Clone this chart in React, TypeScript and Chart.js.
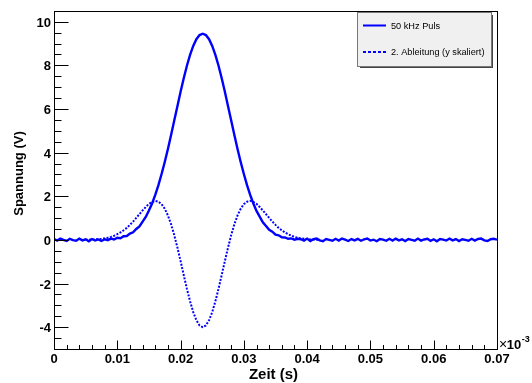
import React, { useEffect, useRef } from "react";
import { Chart, registerables } from "chart.js";

Chart.register(...registerables);

// ---- data (time in milliseconds, voltage in volts) ----
const TIME_MS = [
  0, 0.5, 1, 1.5, 2, 2.5, 3, 3.5, 4, 4.5, 5, 5.5, 6, 6.5, 7, 7.5, 8, 8.5, 9, 9.5,
  10, 10.5, 11, 11.5, 12, 12.5, 13, 13.5, 14, 14.5, 15, 15.5, 16, 16.5, 17, 17.5, 18, 18.5, 19, 19.5,
  20, 20.5, 21, 21.5, 22, 22.5, 23, 23.5, 24, 24.5, 25, 25.5, 26, 26.5, 27, 27.5, 28, 28.5, 29, 29.5,
  30, 30.5, 31, 31.5, 32, 32.5, 33, 33.5, 34, 34.5, 35, 35.5, 36, 36.5, 37, 37.5, 38, 38.5, 39, 39.5,
  40, 40.5, 41, 41.5, 42, 42.5, 43, 43.5, 44, 44.5, 45, 45.5, 46, 46.5, 47, 47.5, 48, 48.5, 49, 49.5,
  50, 50.5, 51, 51.5, 52, 52.5, 53, 53.5, 54, 54.5, 55, 55.5, 56, 56.5, 57, 57.5, 58, 58.5, 59, 59.5,
  60, 60.5, 61, 61.5, 62, 62.5, 63, 63.5, 64, 64.5, 65, 65.5, 66, 66.5, 67, 67.5, 68, 68.5, 69, 69.5,
  70,
];

const PULSE_V = [
  0.04, -0.03, 0.06, 0.0, -0.05, 0.05, -0.01, -0.04, 0.06, -0.02, 0.03, -0.06, 0.04, -0.03, 0.02, -0.05, 0.03, -0.01, 0.06, 0.02,
  0.1, 0.08, 0.17, 0.18, 0.29, 0.35, 0.5, 0.62, 0.84, 1.05, 1.35, 1.67, 2.06, 2.51, 3.02, 3.57, 4.17, 4.81, 5.47, 6.13,
  6.79, 7.41, 7.98, 8.48, 8.89, 9.2, 9.39, 9.45, 9.39, 9.2, 8.89, 8.48, 7.98, 7.41, 6.79, 6.13, 5.47, 4.81, 4.17, 3.57,
  3.02, 2.51, 2.06, 1.67, 1.33, 1.07, 0.81, 0.64, 0.46, 0.38, 0.24, 0.21, 0.12, 0.11, 0.05, 0.07, 0.01, 0.05, 0.03, -0.03,
  0.06, -0.05, 0.03, 0.06, -0.02, -0.06, 0.04, 0.0, -0.04, 0.05, -0.03, 0.06, 0.01, -0.05, 0.04, -0.02, 0.05, -0.04, 0.02, 0.06,
  -0.03, 0.01, -0.06, 0.04, 0.01, -0.04, 0.05, -0.03, 0.06, -0.02, 0.03, -0.05, 0.04, 0.0, -0.04, 0.06, -0.03, 0.02, 0.05, -0.04,
  0.03, -0.06, 0.04, 0.01, -0.03, 0.06, -0.02, 0.04, -0.05, 0.03, 0.0, -0.04, 0.05, -0.03, 0.04, 0.06, -0.02, -0.05, 0.03, 0.05,
  0.01,
];

const DERIV_V = [
  null, null, null, null, null, null, null, null, null, null, 0.01, 0.01, 0.02, 0.02, 0.04, 0.05, 0.07, 0.1, 0.14, 0.19,
  0.26, 0.34, 0.44, 0.55, 0.69, 0.84, 1.01, 1.18, 1.35, 1.51, 1.65, 1.74, 1.79, 1.75, 1.64, 1.43, 1.12, 0.72, 0.22, -0.35,
  -0.97, -1.61, -2.24, -2.81, -3.31, -3.68, -3.92, -4.0, -3.92, -3.68, -3.31, -2.81, -2.24, -1.61, -0.97, -0.35, 0.22, 0.72, 1.12, 1.43,
  1.64, 1.75, 1.79, 1.74, 1.65, 1.51, 1.35, 1.18, 1.01, 0.84, 0.69, 0.55, 0.44, 0.34, 0.26, 0.19, 0.14, 0.1, 0.07, 0.05,
  0.04, 0.02, 0.02, 0.01, 0.01, null, null, null, null, null, null, null, null, null, null, null, null, null, null, null,
  null, null, null, null, null, null, null, null, null, null, null, null, null, null, null, null, null, null, null, null,
  null, null, null, null, null, null, null, null, null, null, null, null, null, null, null, null, null, null, null, null,
  null,
];

const SERIES_LABELS = ["50 kHz Puls", "2. Ableitung (y skaliert)"];
const X_TICKS_MS = [0, 10, 20, 30, 40, 50, 60, 70];
const X_TICK_LABELS = ["0", "0.01", "0.02", "0.03", "0.04", "0.05", "0.06", "0.07"];
const Y_TICKS = [-4, -2, 0, 2, 4, 6, 8, 10];
const Y_TICK_LABELS = ["-4", "-2", "0", "2", "4", "6", "8", "10"];
const X_TITLE = "Zeit (s)";
const Y_TITLE = "Spannung (V)";
const X_EXP_BASE = "10";
const X_EXP_POWER = "-3";

const X_MIN = 0;
const X_MAX = 70;
const Y_MIN = -5;
const Y_MAX = 10.5;
const X_MINOR_STEP = 2;
const Y_MINOR_STEP = 0.5;

const FONT = "'Liberation Sans', Arial, Helvetica, sans-serif";
const BLUE = "#0000ff";

const rootStyle = {
  id: "rootStyle",
  afterDraw(chart: any) {
    const { ctx, chartArea: a, scales } = chart;
    const xs = scales.x;
    const ys = scales.y;
    ctx.save();
    ctx.strokeStyle = "#000";
    ctx.lineWidth = 1;
    // frame
    ctx.strokeRect(Math.round(a.left) + 0.5, Math.round(a.top) + 0.5, Math.round(a.right - a.left), Math.round(a.bottom - a.top));
    const L = Math.round(a.left) + 0.5;
    const B = Math.round(a.bottom) + 0.5;
    ctx.beginPath();
    // y ticks
    for (let v = Y_MIN; v <= Y_MAX + 1e-9; v += Y_MINOR_STEP) {
      const y = Math.round(ys.getPixelForValue(v)) + 0.5;
      const major = Y_TICKS.indexOf(v) >= 0;
      ctx.moveTo(L, y);
      ctx.lineTo(L + (major ? 14 : 7), y);
    }
    // x ticks
    for (let v = X_MIN; v <= X_MAX + 1e-9; v += X_MINOR_STEP) {
      const x = Math.round(xs.getPixelForValue(v)) + 0.5;
      const major = X_TICKS_MS.indexOf(v) >= 0;
      ctx.moveTo(x, B);
      ctx.lineTo(x, B - (major ? 9 : 4.5));
    }
    ctx.stroke();

    ctx.fillStyle = "#000";
    // exponent label ×10^-3
    let ex = a.right + 2;
    ctx.textBaseline = "alphabetic";
    ctx.textAlign = "left";
    ctx.font = `14px ${FONT}`;
    ctx.fillText("\u00d7", ex, 348.5);
    ex += ctx.measureText("\u00d7").width - 0.5;
    ctx.font = `bold 13px ${FONT}`;
    ctx.fillText(X_EXP_BASE, ex, 348.5);
    ex += ctx.measureText(X_EXP_BASE).width + 0.5;
    ctx.font = `bold 9px ${FONT}`;
    ctx.fillText(X_EXP_POWER, ex, 342);

    // axis titles
    ctx.font = `bold 15px ${FONT}`;
    ctx.textAlign = "center";
    ctx.fillText(X_TITLE, 273.5, 378.5);
    ctx.save();
    ctx.translate(22.5, 173.5);
    ctx.rotate(-Math.PI / 2);
    ctx.font = `bold 13px ${FONT}`;
    ctx.fillText(Y_TITLE, 0, 0);
    ctx.restore();

    // legend box
    const lx = 358, ly = 13, lw = 133, lh = 53;
    ctx.fillStyle = "#444";
    ctx.fillRect(lx + 2, ly + 2, lw, lh);
    ctx.fillStyle = "#f0f0f0";
    ctx.fillRect(lx, ly, lw, lh);
    ctx.strokeStyle = "#777";
    ctx.lineWidth = 1;
    ctx.strokeRect(lx - 0.5, ly - 0.5, lw + 1, lh + 1);

    const rows = [25.5, 52];
    chart.data.datasets.forEach((ds: any, i: number) => {
      const y = rows[i];
      ctx.save();
      ctx.strokeStyle = ds.borderColor;
      ctx.lineWidth = 2;
      ctx.setLineDash(ds.borderDash && ds.borderDash.length ? [3, 2] : []);
      ctx.beginPath();
      ctx.moveTo(363, y);
      ctx.lineTo(386, y);
      ctx.stroke();
      ctx.restore();
      ctx.fillStyle = "#000";
      ctx.font = `9.2px ${FONT}`;
      ctx.textAlign = "left";
      ctx.textBaseline = "middle";
      ctx.fillText(ds.label, 391, y + 0.5);
    });
    ctx.restore();
  },
};

export default function App() {
  const ref = useRef<HTMLCanvasElement>(null);

  useEffect(() => {
    const pulseData = TIME_MS.map((t, i) => ({ x: t, y: PULSE_V[i] }));
    const derivData = TIME_MS.map((t, i) => ({ x: t, y: DERIV_V[i] })).filter((p) => p.y !== null);

    const chart = new Chart(ref.current as HTMLCanvasElement, {
      type: "line",
      data: {
        datasets: [
          {
            label: SERIES_LABELS[0],
            data: pulseData,
            borderColor: BLUE,
            backgroundColor: BLUE,
            borderWidth: 2.4,
            pointRadius: 0,
            tension: 0,
            fill: false,
          },
          {
            label: SERIES_LABELS[1],
            data: derivData as any,
            borderColor: BLUE,
            backgroundColor: BLUE,
            borderWidth: 2,
            borderDash: [2, 1.5],
            pointRadius: 0,
            tension: 0,
            fill: false,
          },
        ],
      },
      options: {
        animation: false,
        responsive: true,
        maintainAspectRatio: false,
        events: [],
        layout: { padding: { top: 8, right: 35, left: 0, bottom: 0 } },
        plugins: {
          legend: { display: false },
          tooltip: { enabled: false },
          title: { display: false },
        },
        scales: {
          x: {
            type: "linear",
            min: X_MIN,
            max: X_MAX,
            grid: { display: false, drawTicks: false },
            border: { display: false },
            afterBuildTicks: (s: any) => {
              s.ticks = X_TICKS_MS.map((v) => ({ value: v }));
            },
            afterFit: (s: any) => {
              s.height = 34;
            },
            ticks: {
              autoSkip: false,
              maxRotation: 0,
              padding: 3,
              color: "#000",
              font: { family: FONT, size: 13, weight: "bold" },
              callback: (v: any) => X_TICK_LABELS[X_TICKS_MS.indexOf(Number(v))] ?? "",
            },
          },
          y: {
            type: "linear",
            min: Y_MIN,
            max: Y_MAX,
            grid: { display: false, drawTicks: false },
            border: { display: false },
            afterBuildTicks: (s: any) => {
              s.ticks = Y_TICKS.map((v) => ({ value: v }));
            },
            afterFit: (s: any) => {
              s.width = 54;
            },
            ticks: {
              autoSkip: false,
              padding: 3,
              labelOffset: 1.5,
              color: "#000",
              font: { family: FONT, size: 13, weight: "bold" },
              callback: (v: any) => Y_TICK_LABELS[Y_TICKS.indexOf(Number(v))] ?? "",
            },
          },
        },
      } as any,
      plugins: [rootStyle],
    });
    return () => chart.destroy();
  }, []);

  return (
    <div style={{ position: "fixed", left: 0, top: 0, width: 532, height: 383, background: "#fff" }}>
      <canvas ref={ref} />
    </div>
  );
}
